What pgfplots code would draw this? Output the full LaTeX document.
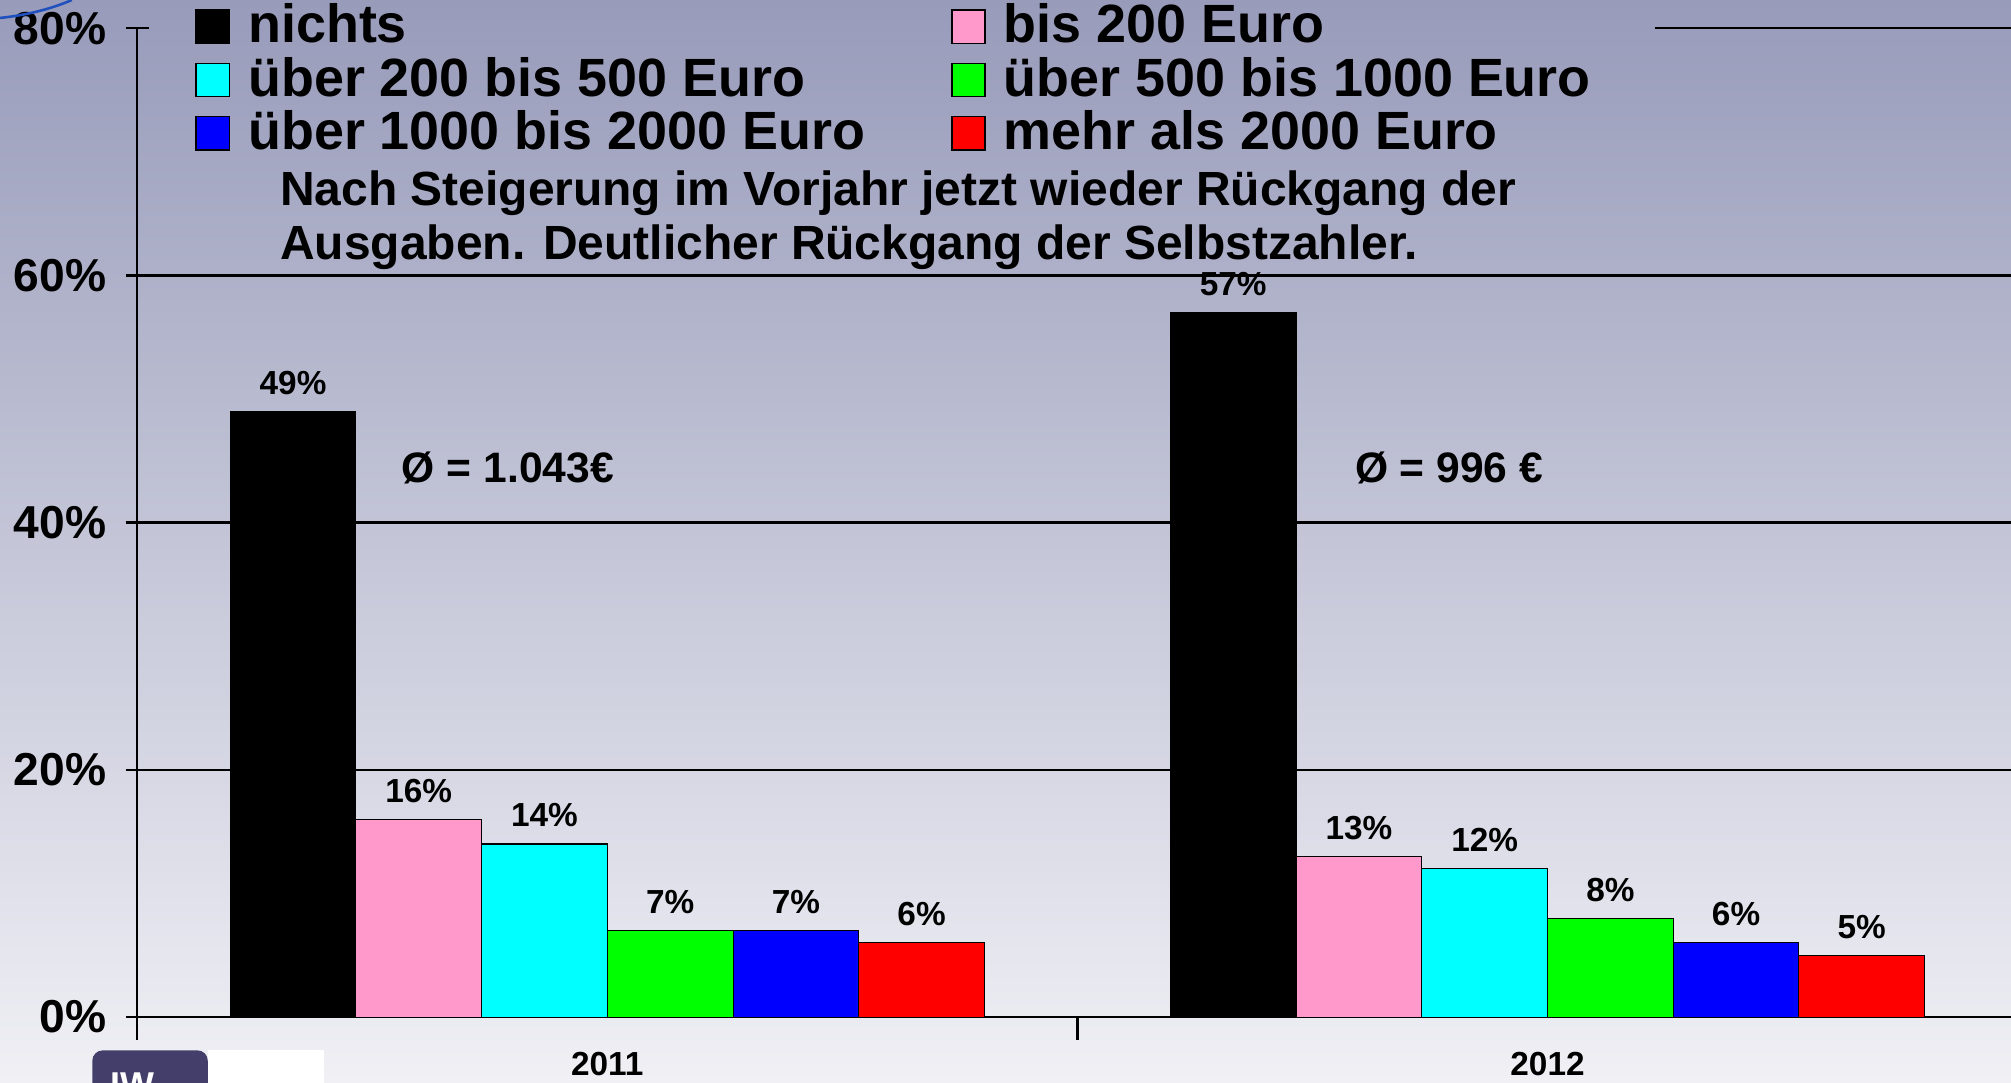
\documentclass[border=0pt]{standalone}
\usepackage{fontspec}
\setmainfont{Liberation Sans}
\usepackage{pgfplots}
\pgfplotsset{compat=1.18}
\usetikzlibrary{calc}
\pgfdeclarelayer{background}
\pgfsetlayers{background,main}

\definecolor{bgtop}{HTML}{989BBA}
\definecolor{bgbot}{HTML}{F0F0F5}
\definecolor{cpink}{HTML}{FF99CC}
\definecolor{ccyan}{HTML}{00FFFF}
\definecolor{cgreen}{HTML}{00FF00}
\definecolor{cblue}{HTML}{0000FF}
\definecolor{cred}{HTML}{FF0000}
\definecolor{logo}{HTML}{443E6A}
\definecolor{arc}{HTML}{1F50BE}

\begin{document}
\begin{tikzpicture}
\begin{axis}[name=ax,
  scale only axis, width=730.5pt, height=385.5pt,
  xmin=-0.5, xmax=1.493, ymin=0, ymax=80,
  ybar=0pt, bar width=0.1337,
  axis lines*=left, axis line style={line width=0.9pt},
  ytick={0,20,40,60}, extra y ticks={80}, extra y tick style={grid=none},
  ymajorgrids, grid style={black, line width=0.9pt},
  yticklabel={\pgfmathprintnumber{\tick}\%},
  /pgf/number format/assume math mode=true,
  yticklabel style={font=\bfseries\fontsize{18}{18}\selectfont, xshift=-4pt},
  y tick style={black, line width=0.9pt}, ytick align=center, major tick length=9pt,
  xtick={-0.5,0.5}, xticklabels={},
  x tick style={black, line width=0.9pt}, xtick align=outside,
  extra x ticks={0,1}, extra x tick labels={2011,2012},
  extra x tick style={major tick length=0pt, tick style={draw=none}},
  xticklabel style={font=\bfseries\fontsize{13}{13}\selectfont, yshift=-10pt},
  clip=false,
  nodes near coords={\pgfmathprintnumber{\pgfplotspointmeta}\%},
  every node near coord/.append style={font=\bfseries\fontsize{13}{13}\selectfont, yshift=3pt, black},
  legend columns=2, legend cell align=left,
  legend style={at={(0,1)}, anchor=north west, xshift=19.5pt, yshift=11.5pt,
    draw=none, fill=none, font=\bfseries\fontsize{21}{21}\selectfont,
    column sep=7pt, row sep=1.25pt,
    nodes={inner sep=0pt, text height=15pt, text depth=4.5pt}},
  legend image code/.code={\draw[#1, draw=black, line width=0.6pt] (0pt,-5.5pt) rectangle (13pt,7.5pt);},
]
\addplot[bar shift=-0.33425, fill=black, draw=black] coordinates {(0,49) (1,57)};
\addlegendentry{\makebox[267pt][l]{nichts}}
\addplot[bar shift=-0.20055, fill=cpink, draw=black] coordinates {(0,16) (1,13)};
\addlegendentry{bis 200 Euro}
\addplot[bar shift=-0.06685, fill=ccyan, draw=black] coordinates {(0,14) (1,12)};
\addlegendentry{\makebox[267pt][l]{über 200 bis 500 Euro}}
\addplot[bar shift=0.06685, fill=cgreen, draw=black] coordinates {(0,7) (1,8)};
\addlegendentry{über 500 bis 1000 Euro}
\addplot[bar shift=0.20055, fill=cblue, draw=black] coordinates {(0,7) (1,6)};
\addlegendentry{\makebox[267pt][l]{über 1000 bis 2000 Euro}}
\addplot[bar shift=0.33425, fill=cred, draw=black] coordinates {(0,6) (1,5)};
\addlegendentry{mehr als 2000 Euro}

\draw[black, line width=0.9pt] (axis cs:1.114,80) -- (axis cs:1.493,80);
\node[anchor=west, inner sep=0pt, font=\bfseries\fontsize{16.6}{17}\selectfont] at (axis cs:-0.219,44.4) {Ø = 1.043€};
\node[anchor=west, inner sep=0pt, font=\bfseries\fontsize{16.6}{17}\selectfont] at (axis cs:0.7947,44.4) {Ø = 996 €};
\node[anchor=west, align=left, inner sep=0pt, font=\bfseries\fontsize{18.7}{21}\selectfont]
  at (axis description cs:0.076,0.806)
  {Nach Steigerung im Vorjahr jetzt wieder Rückgang der\\Ausgaben. Deutlicher Rückgang der Selbstzahler.};
\end{axis}
\coordinate (TL) at ($(ax.north west)+(-53.5pt,11pt)$);
\coordinate (BR) at ($(ax.south east)+(0pt,-25.5pt)$);
\coordinate (BL) at ($(ax.south west)+(-53.5pt,-25.5pt)$);
\fill[logo, rounded corners=4pt] ($(BL)+(36pt,-6pt)$) rectangle ($(BL)+(81pt,12.5pt)$);
\fill[white] ($(BL)+(81pt,-6pt)$) rectangle ($(BL)+(126.5pt,12.5pt)$);
\node[anchor=north west, inner sep=0pt, white, font=\bfseries\fontsize{14}{14}\selectfont] at ($(BL)+(43pt,4pt)$) {IW};
\draw[arc, line width=1pt] ($(TL)+(0pt,-7pt)$) .. controls ($(TL)+(10pt,-6pt)$) and ($(TL)+(20pt,-3.5pt)$) .. ($(TL)+(28pt,0pt)$);
\begin{pgfonlayer}{background}
\shade[top color=bgtop, bottom color=bgbot] (TL) rectangle (BR);
\end{pgfonlayer}
\pgfresetboundingbox
\path[use as bounding box] (TL) rectangle (BR);
\end{tikzpicture}
\end{document}
